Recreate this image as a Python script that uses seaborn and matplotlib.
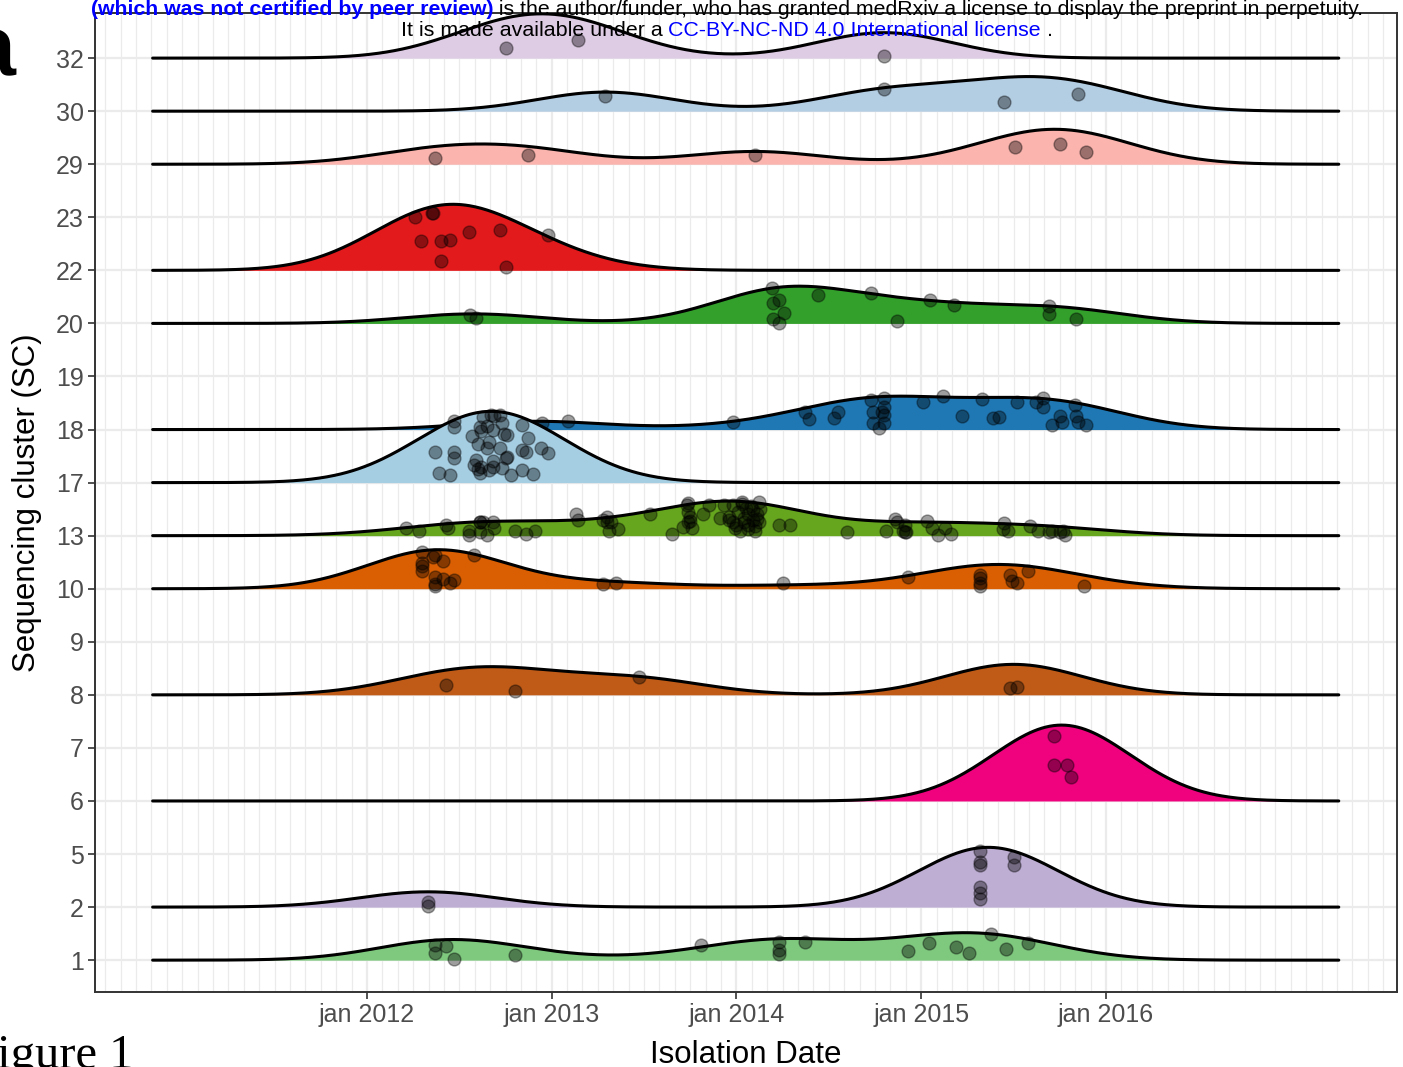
import numpy as np
import pandas as pd
import matplotlib
matplotlib.use("Agg")
import matplotlib.pyplot as plt
from matplotlib.ticker import MultipleLocator
import seaborn as sns

sns.set_theme(style="whitegrid")
plt.rcParams['font.family'] = ['Liberation Sans', 'DejaVu Sans']

# y axis levels, bottom to top
SC_LEVELS = ["1", "2", "5", "6", "7", "8", "9", "10", "13", "17", "18", "19",
             "20", "22", "23", "29", "30", "32"]

# isolation dates (decimal years) and jitter heights (in rows)
SC1_DATES = [2012.37, 2012.43, 2012.37, 2012.47, 2012.80, 2013.81, 2014.23, 2014.23,
             2014.23, 2014.37, 2014.93, 2015.04, 2015.19, 2015.26, 2015.38, 2015.46, 2015.58]
SC1_JITTER = [0.28, 0.26, 0.13, 0.02, 0.09, 0.28, 0.34, 0.19, 0.11, 0.34, 0.17, 0.32,
              0.25, 0.13, 0.49, 0.21, 0.32]

SC2_DATES = [2012.33, 2012.33, 2015.32, 2015.32, 2015.32, 2015.32, 2015.32, 2015.32,
             2015.50, 2015.50]
SC2_JITTER = [0.09, 0.02, 1.06, 0.85, 0.79, 0.38, 0.26, 0.15, 0.94, 0.79]

SC6_DATES = [2015.72, 2015.72, 2015.79, 2015.81]
SC6_JITTER = [1.23, 0.68, 0.68, 0.45]

SC8_DATES = [2012.43, 2012.80, 2013.47, 2015.48, 2015.52]
SC8_JITTER = [0.19, 0.08, 0.34, 0.13, 0.15]

SC10_DATES = [2012.30, 2012.37, 2012.36, 2012.41, 2012.30, 2012.30, 2012.30, 2012.58,
              2012.37, 2012.41, 2012.47, 2012.45, 2012.37, 2012.37, 2013.28, 2013.35,
              2014.25, 2014.93, 2015.32, 2015.32, 2015.32, 2015.32, 2015.48, 2015.49,
              2015.52, 2015.58, 2015.88]
SC10_JITTER = [0.70, 0.64, 0.60, 0.53, 0.49, 0.42, 0.34, 0.64, 0.23, 0.19, 0.17, 0.11,
               0.09, 0.06, 0.09, 0.11, 0.11, 0.23, 0.26, 0.21, 0.11, 0.06, 0.25, 0.15,
               0.11, 0.34, 0.06]

SC13_DATES = [2012.21, 2012.28, 2012.43, 2012.44, 2012.55, 2012.55, 2012.61, 2012.61,
              2012.63, 2012.68, 2012.69, 2012.61, 2012.65, 2012.80, 2012.86, 2012.91,
              2013.13, 2013.14, 2013.28, 2013.30, 2013.30, 2013.32, 2013.31, 2013.36,
              2013.53, 2013.65, 2013.71, 2013.73, 2013.74, 2013.75, 2013.75, 2013.74,
              2013.82, 2013.85, 2013.91, 2013.93, 2013.98, 2013.96, 2013.98, 2014.00,
              2014.03, 2014.05, 2014.06, 2014.04, 2014.02, 2014.06, 2014.09, 2014.09,
              2014.11, 2014.10, 2014.12, 2014.12, 2014.23, 2014.29, 2014.60, 2014.81,
              2014.86, 2014.87, 2014.91, 2014.90, 2014.92, 2014.91, 2015.03, 2015.06,
              2015.09, 2015.13, 2015.16, 2015.45, 2015.44, 2015.47, 2015.59, 2015.63,
              2015.69, 2015.71, 2015.75, 2015.77, 2015.78,
              # overlapping isolates hidden in the dark cluster around jan 2014
              2013.96, 2013.99, 2014.01, 2014.03, 2014.04, 2014.06, 2014.08, 2014.10,
              2014.11, 2014.13, 2013.74, 2013.76]
SC13_JITTER = [0.15, 0.08, 0.21, 0.15, 0.08, 0.02, 0.26, 0.25, 0.26, 0.25, 0.15, 0.06,
               0.02, 0.08, 0.04, 0.08, 0.40, 0.30, 0.30, 0.36, 0.26, 0.25, 0.09, 0.13,
               0.40, 0.04, 0.17, 0.57, 0.62, 0.36, 0.28, 0.25, 0.40, 0.57, 0.34, 0.58,
               0.58, 0.36, 0.25, 0.21, 0.64, 0.53, 0.40, 0.26, 0.08, 0.13, 0.49, 0.30,
               0.40, 0.09, 0.64, 0.25, 0.21, 0.21, 0.06, 0.08, 0.32, 0.25, 0.21, 0.08,
               0.06, 0.06, 0.28, 0.15, 0.02, 0.15, 0.04, 0.23, 0.13, 0.09, 0.19, 0.08,
               0.06, 0.08, 0.06, 0.09, 0.02,
               0.30, 0.15, 0.45, 0.60, 0.34, 0.20, 0.55, 0.18, 0.32, 0.50, 0.45, 0.15]

SC17_DATES = [2012.47, 2012.47, 2012.37, 2012.47, 2012.47, 2012.39, 2012.45, 2012.57,
              2012.61, 2012.63, 2012.67, 2012.69, 2012.72, 2012.65, 2012.68, 2012.73,
              2012.62, 2012.66, 2012.60, 2012.65, 2012.72, 2012.74, 2012.76, 2012.76,
              2012.75, 2012.84, 2012.87, 2012.84, 2012.86, 2012.94, 2012.98, 2012.59,
              2012.58, 2012.62, 2012.60, 2012.61, 2012.68, 2012.68, 2012.66, 2012.73,
              2012.78, 2012.84, 2012.90]
SC17_JITTER = [1.17, 1.04, 0.57, 0.57, 0.47, 0.19, 0.15, 0.87, 1.04, 1.23, 1.28, 1.25,
               1.28, 1.06, 1.00, 1.13, 0.98, 0.77, 0.72, 0.66, 0.66, 0.91, 0.89, 0.49,
               0.47, 1.08, 0.85, 0.62, 0.58, 0.66, 0.55, 0.43, 0.34, 0.30, 0.25, 0.19,
               0.40, 0.30, 0.23, 0.28, 0.15, 0.23, 0.17]

SC18_DATES = [2012.75, 2012.85, 2012.95, 2013.09, 2013.98, 2014.37, 2014.39, 2014.55,
              2014.53, 2014.73, 2014.80, 2014.74, 2014.80, 2014.79, 2014.80, 2014.74,
              2014.80, 2014.77, 2015.01, 2015.12, 2015.22, 2015.33, 2015.39, 2015.42,
              2015.52, 2015.62, 2015.66, 2015.66, 2015.75, 2015.71, 2015.76, 2015.83,
              2015.84, 2015.85, 2015.89]
SC18_JITTER = [0.10, 0.05, 0.12, 0.17, 0.15, 0.34, 0.19, 0.34, 0.21, 0.55, 0.60, 0.34,
               0.43, 0.34, 0.28, 0.13, 0.13, 0.02, 0.51, 0.64, 0.26, 0.58, 0.21, 0.23,
               0.51, 0.51, 0.60, 0.42, 0.26, 0.08, 0.15, 0.47, 0.26, 0.15, 0.08]

SC20_DATES = [2012.56, 2012.59, 2014.19, 2014.23, 2014.20, 2014.26, 2014.20, 2014.23,
              2014.44, 2014.73, 2014.87, 2015.05, 2015.18, 2015.69, 2015.69, 2015.84]
SC20_JITTER = [0.16, 0.11, 0.66, 0.45, 0.38, 0.20, 0.08, 0.01, 0.53, 0.58, 0.05, 0.44,
               0.35, 0.33, 0.18, 0.08]

SC22_DATES = [2012.26, 2012.35, 2012.36, 2012.29, 2012.40, 2012.45, 2012.55, 2012.72,
              2012.98, 2012.40, 2012.75]
SC22_JITTER = [1.00, 1.08, 1.08, 0.55, 0.55, 0.58, 0.72, 0.77, 0.66, 0.17, 0.06]

SC29_DATES = [2012.37, 2012.87, 2014.10, 2015.51, 2015.75, 2015.89]
SC29_JITTER = [0.11, 0.17, 0.17, 0.32, 0.38, 0.23]

SC30_DATES = [2013.29, 2014.80, 2015.45, 2015.85]
SC30_JITTER = [0.28, 0.42, 0.17, 0.32]

SC32_DATES = [2012.75, 2013.14, 2014.80]
SC32_JITTER = [0.19, 0.34, 0.04]

SC_DATA = {
    "1": (SC1_DATES, SC1_JITTER), "2": (SC2_DATES, SC2_JITTER),
    "6": (SC6_DATES, SC6_JITTER), "8": (SC8_DATES, SC8_JITTER),
    "10": (SC10_DATES, SC10_JITTER), "13": (SC13_DATES, SC13_JITTER),
    "17": (SC17_DATES, SC17_JITTER), "18": (SC18_DATES, SC18_JITTER),
    "20": (SC20_DATES, SC20_JITTER), "22": (SC22_DATES, SC22_JITTER),
    "29": (SC29_DATES, SC29_JITTER), "30": (SC30_DATES, SC30_JITTER),
    "32": (SC32_DATES, SC32_JITTER),
}

SC_COLORS = {"1": "#7fc97f", "2": "#beaed4", "6": "#f0027f", "8": "#bf5b17",
             "10": "#d95f02", "13": "#66a61e", "17": "#a6cee3", "18": "#1f78b4",
             "20": "#33a02c", "22": "#e31a1c", "29": "#fbb4ae", "30": "#b3cde3",
             "32": "#decbe4"}

YEAR_TICKS = [2012, 2013, 2014, 2015, 2016]
YEAR_LABELS = ["jan 2012", "jan 2013", "jan 2014", "jan 2015", "jan 2016"]

BANDWIDTH = 0.37      # joint bandwidth in years
RIDGE_SCALE = 1.43    # tallest ridge height, in rows
grid = np.linspace(2010.84, 2017.26, 600)


def kde(x, xs, bw):
    z = (xs[:, None] - np.asarray(x)[None, :]) / bw
    return np.exp(-0.5 * z ** 2).sum(axis=1) / (len(x) * bw * np.sqrt(2 * np.pi))


dens = {k: kde(v[0], grid, BANDWIDTH) for k, v in SC_DATA.items()}
dmax = max(d.max() for d in dens.values())

fig, ax = plt.subplots(figsize=(14.03, 10.67), dpi=100)
fig.subplots_adjust(left=0.0677, right=0.9957, top=0.9878, bottom=0.0703)

# draw from top row downwards so lower ridges overlap the upper ones
for k, lvl in enumerate(reversed(SC_LEVELS)):
    if lvl not in SC_DATA:
        continue
    base = SC_LEVELS.index(lvl)
    h = dens[lvl] / dmax * RIDGE_SCALE
    z = 3 + k * 3
    ax.fill_between(grid, base, base + h, color=SC_COLORS[lvl], lw=0, zorder=z)
    ax.plot(grid, base + h, color="black", lw=2.2, zorder=z + 1)
    pts = pd.DataFrame({"date": SC_DATA[lvl][0],
                        "y": base + np.asarray(SC_DATA[lvl][1])})
    sns.scatterplot(data=pts, x="date", y="y", ax=ax, color="black", alpha=0.38,
                    s=85, edgecolor="black", linewidth=1.0, zorder=z + 2, legend=False)

ax.set_xlim(2010.528, 2017.575)
ax.set_ylim(-0.60, 17.85)
ax.set_xticks(YEAR_TICKS)
ax.set_xticklabels(YEAR_LABELS)
ax.xaxis.set_minor_locator(MultipleLocator(1 / 12))
ax.set_yticks(range(len(SC_LEVELS)))
ax.set_yticklabels(SC_LEVELS)

ax.set_axisbelow(True)
ax.grid(True, which="major", color="#ebebeb", lw=1.6)
ax.grid(True, which="minor", axis="x", color="#ebebeb", lw=0.9)
ax.tick_params(axis="both", which="major", bottom=True, left=True, length=5,
               width=1.2, color="#333333", labelcolor="#4d4d4d", labelsize=18, pad=3)
ax.tick_params(axis="x", which="minor", length=0)
for sp in ax.spines.values():
    sp.set_color("#333333")
    sp.set_linewidth(1.4)

ax.set_xlabel("Isolation Date", fontsize=22.5, color="black", labelpad=9)
ax.set_ylabel("Sequencing cluster (SC)", fontsize=22.5, color="black", labelpad=10)

# panel letter and caption, both cut by the page edge
fig.text(15 / 1403, 1 - 75 / 1067, "a", fontsize=62, fontweight="bold",
         ha="right", va="baseline", color="black")
fig.text(133 / 1403, 1 - 1068 / 1067, "Figure 1", fontsize=35, ha="right",
         va="baseline", family=["Liberation Serif", "DejaVu Serif"], color="black")


def colored_line(y, parts, size):
    texts = [fig.text(0, y, s, color=c, fontsize=size, fontweight=w,
                      ha="left", va="baseline", zorder=10) for s, c, w in parts]
    fig.canvas.draw()
    r = fig.canvas.get_renderer()
    widths = [t.get_window_extent(r).width / fig.bbox.width for t in texts]
    x = 0.518 - sum(widths) / 2
    for t, w in zip(texts, widths):
        t.set_x(x)
        x += w


colored_line(1 - 15 / 1067,
             [("(which was not certified by peer review)", "#0000ff", "bold"),
              (" is the author/funder, who has granted medRxiv a license to display the preprint in perpetuity.",
               "black", "normal")], 15.3)
colored_line(1 - 36 / 1067,
             [("It is made available under a ", "black", "normal"),
              ("CC-BY-NC-ND 4.0 International license", "#0000ff", "normal"),
              (" .", "black", "normal")], 15.4)

fig.savefig("out.png", dpi=100)
